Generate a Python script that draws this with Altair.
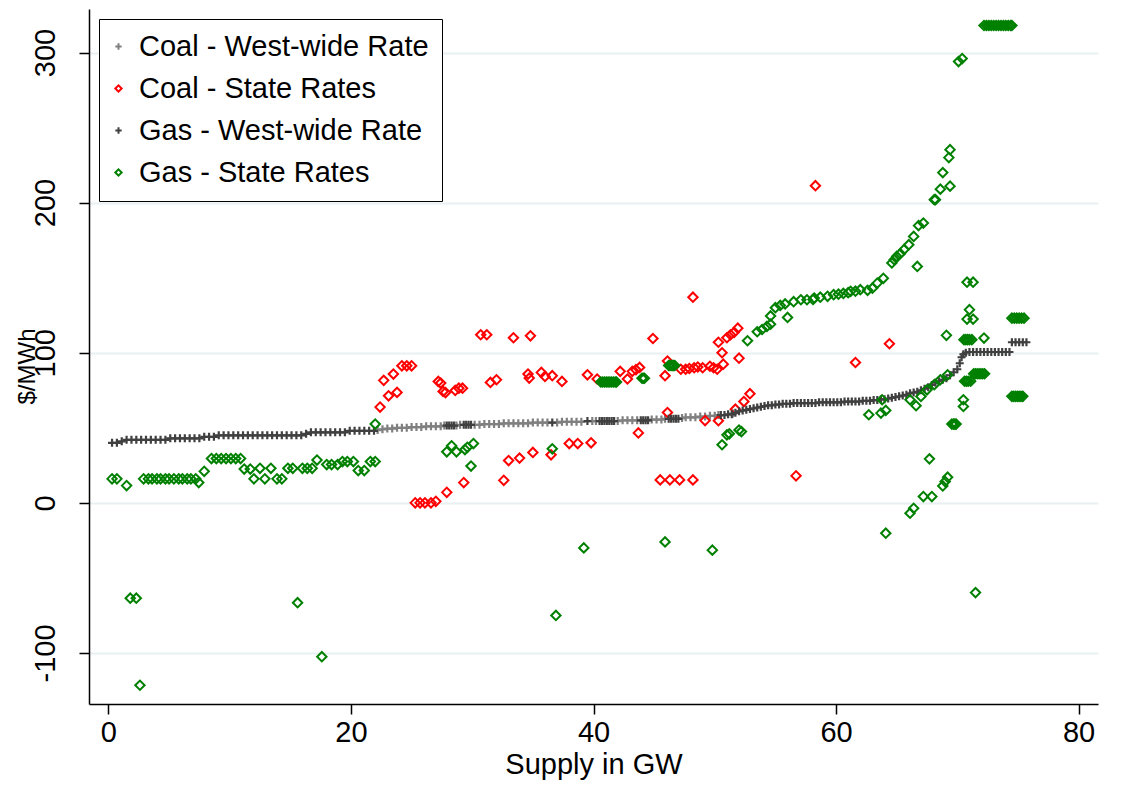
import altair as alt
import pandas as pd

# ---------------- data ----------------
series_names = ["Coal - West-wide Rate", "Coal - State Rates",
                "Gas - West-wide Rate", "Gas - State Rates"]

coal_ww_x = [22.2, 22.6, 23.0, 23.4, 23.8, 24.2, 24.6, 25.0, 25.4, 25.8, 26.2, 26.6, 27.0, 27.4, 27.7,
             28.7, 29.0, 30.2, 30.6, 31.0, 31.4, 31.8, 32.2, 32.6, 33.0, 33.4, 33.8, 34.2, 34.6, 35.0,
             35.4, 35.8, 36.2, 37.0, 37.4, 37.8, 38.2, 38.6, 39.0, 39.9, 40.2, 42.0, 42.4, 42.8, 43.2,
             43.6, 44.8, 45.2, 45.6, 45.9, 47.3, 47.6, 48.0, 48.4, 48.8, 49.2, 49.6, 50.0, 50.3, 51.5]
coal_ww_y = [48.5, 49, 49.5, 49.5, 50, 50, 50, 50.5, 50.5, 50.5, 51, 51, 51, 51, 51.5,
             51.5, 52, 52, 52, 52.5, 52.5, 52.5, 52.5, 53, 53, 53, 53, 53, 53, 53.5,
             53.5, 53.5, 53.5, 53.5, 54, 54, 54, 54, 54, 54.5, 54.5, 54.5, 55, 55, 55,
             55, 55.5, 55.5, 55.5, 56, 56.5, 57, 57, 57, 57.5, 57.5, 58, 58, 58.5, 59.5]

coal_st_x = [22.4, 23.1, 23.8, 22.7, 23.5, 24.2, 24.6, 25.0,
             27.2, 27.4, 27.6, 27.8, 28.6, 28.9, 29.2,
             30.7, 31.2, 33.4, 34.8,
             31.5, 32.0, 34.6, 34.7, 35.7, 36.0, 36.6, 37.4, 39.5, 40.3, 42.2, 42.8, 43.2, 43.5, 43.8,
             44.9, 46.1, 45.9, 48.2,
             47.2, 47.6, 47.9, 48.3, 48.6, 49.0, 49.6, 49.9, 50.2,
             50.3, 50.6, 50.7, 52.0, 51.0, 51.3, 51.6, 51.9,
             58.3, 64.4, 61.6,
             25.3, 25.7, 26.1, 26.6, 27.0, 27.9, 29.3, 32.6, 33.0, 33.9, 35.0, 36.5, 38.0, 38.7, 39.8,
             43.7, 46.1, 49.2, 50.3, 51.7, 52.4, 52.9, 45.5, 46.3, 47.1, 48.2, 56.7]
coal_st_y = [63.8, 71.3, 73.6, 81.6, 85.8, 91.3, 91.3, 91.3,
             80.9, 79.8, 74.2, 73.5, 74.9, 76.4, 76.4,
             112, 112, 110, 111.3,
             80.2, 82, 85.8, 83.1, 86.9, 84.2, 84.7, 80.9, 85.3, 82.5, 87.6, 82.5, 87.6, 88.7, 90.2,
             109.5, 94.5, 84.7, 137,
             89, 89, 89.5, 90, 90.5, 90, 91, 90, 89,
             107, 100, 92.4, 96.4, 110, 112, 113.6, 116.4,
             211.3, 106, 93.5,
             0, 0, 0, 0, 1, 7, 13.5, 15, 28.2, 29.8, 33.6, 32, 39.5, 39.5, 40,
             46.6, 60.2, 54.8, 54.7, 62.4, 67.5, 72.7, 15.3, 15.3, 15.3, 15.3, 18]

gas_ww_x = [0.3, 0.7, 1.1, 1.5, 1.9, 2.3, 2.7, 3.1, 3.5, 3.9, 4.3, 4.7, 5.1, 5.5, 5.9, 6.3, 6.7, 7.1,
            7.5, 7.9, 8.3, 8.7, 9.1, 9.5, 9.9, 10.3, 10.7, 11.1, 11.5, 11.9, 12.3, 12.7, 13.1, 13.5,
            13.9, 14.3, 14.7, 15.1, 15.5, 15.9, 16.3, 16.7, 17.1, 17.5, 17.9, 18.3, 18.7, 19.1, 19.5,
            19.9, 20.3, 20.7, 21.1, 21.5, 21.9,
            27.9, 28.1, 28.3, 28.5, 29.3, 29.5, 29.7, 29.9, 36.6, 39.5,
            40.5, 40.7, 40.9, 41.1, 41.3, 41.5, 41.7, 43.9, 44.1, 44.3, 44.5,
            46.2, 46.4, 46.6, 46.8, 47.0, 50.5, 50.8, 51.1, 51.4,
            51.7, 52.0, 52.3, 52.6, 52.9, 53.2, 53.5, 53.8, 54.1, 54.4, 54.7, 55.0, 55.3, 55.6, 55.9,
            56.2, 56.5, 56.8, 57.1, 57.4, 57.7, 58.0, 58.3, 58.6, 58.9, 59.2, 59.5, 59.8, 60.1, 60.4,
            60.7, 61.0, 61.3, 61.6, 61.9, 62.2, 62.5, 62.8, 63.1, 63.4, 63.7, 64.0, 64.3, 64.6, 64.9,
            65.2, 65.5, 65.8, 66.1, 66.4, 66.7, 67.0, 67.3, 67.6, 67.9, 68.2, 68.5, 68.8, 69.1, 69.4,
            69.7, 70.0, 70.2, 70.35, 70.5, 70.7, 71.0, 71.3, 71.6, 71.9, 72.2, 72.5, 72.8, 73.1, 73.4,
            73.7, 74.0, 74.3, 74.5, 74.8, 75.1, 75.4, 75.7]
gas_ww_y = [40, 40, 41, 42, 42, 42, 42, 42, 42, 42, 42, 42, 43, 43, 43, 43, 43, 43,
            43, 44, 44, 44, 45, 45, 45, 45, 45, 45, 45, 45, 45, 45, 45, 45,
            45, 45, 45, 45, 45, 45, 46, 47, 47, 47, 47, 47, 47, 47, 47,
            48, 48, 48, 48, 48, 48,
            51.5, 51.5, 51.5, 51.5, 52, 52, 52, 52, 53.5, 54.5,
            54.5, 54.5, 54.5, 54.5, 54.5, 54.5, 54.5, 55, 55, 55, 55,
            56, 56, 56, 56, 56, 58.5, 58.5, 59, 59,
            60, 61, 61.5, 62, 62.5, 63, 63.5, 64, 64.5, 65, 65, 65.5, 65.5, 66, 66,
            66, 66.5, 66.5, 66.5, 66.5, 66.5, 66.5, 66.5, 67, 67, 67, 67, 67, 67, 67,
            67.5, 67.5, 67.5, 67.5, 67.5, 68, 68, 68, 68.5, 68.5, 69, 69, 69.5, 70, 70.5,
            71, 71.5, 72, 73, 73.5, 74, 75, 76, 77, 78.5, 80, 81, 82, 83, 85,
            87, 89, 93, 97, 99, 100, 100.5, 100.5, 100.5, 100.5, 100.5, 100.5, 100.5, 100.5, 100.5,
            100.5, 100.5, 100.5, 107, 107, 107, 107, 107]

gas_st_x = [0.3, 0.7, 1.5, 2.9, 3.3, 3.6, 4.0, 4.3, 4.7, 5.0, 5.4, 5.8, 6.1, 6.5, 6.8, 7.2, 7.45, 7.9,
            8.5, 8.9, 9.3, 9.7, 10.1, 10.5, 10.9, 11.2, 11.7, 12.0, 12.5, 12.9, 13.4, 13.9, 14.3,
            14.8, 15.2, 16.0, 16.4, 16.8, 17.2, 18.0, 18.4, 18.9, 19.3, 19.7, 20.2, 20.6, 21.1,
            21.6, 22.0, 22.0,
            1.8, 2.3, 2.6, 15.6, 17.6,
            27.9, 28.3, 28.7, 29.4, 29.6, 30.1, 29.9, 36.6, 36.9, 39.2, 45.9, 49.8,
            40.6, 40.75, 40.9, 41.05, 41.2, 41.35, 41.5, 41.65, 41.8, 41.9,
            44.0, 44.1, 44.2,
            46.2, 46.3, 46.4, 46.5, 46.6, 46.7,
            50.6, 51.0, 51.2, 52.2, 52.0,
            52.7, 53.5, 53.9, 54.3, 54.6, 54.6, 55.0, 55.4, 55.8, 56.0, 56.5, 57.1, 57.6, 58.1, 58.2,
            58.7, 59.3, 59.8, 60.2, 60.6, 61.0, 61.2, 61.6, 62.0, 62.6, 63.0, 63.4, 63.9, 64.6, 64.8,
            65.0, 65.3, 65.6, 66.0, 66.4, 66.7, 66.8, 67.2, 68.1, 68.2, 68.6, 69.4, 68.8, 69.3, 69.4,
            70.1, 70.4,
            72.2, 72.4, 72.6, 72.8, 73.0, 73.2, 73.4, 73.6, 73.8, 74.0, 74.2, 74.4, 74.5,
            70.8, 71.3, 71.0, 70.8, 71.3, 69.1,
            70.55, 70.7, 70.85, 71.0, 71.2, 72.2,
            74.5, 74.7, 74.9, 75.1, 75.3, 75.5,
            71.35, 71.5, 71.65, 71.8, 71.95, 72.1, 72.25,
            70.6, 70.75, 70.9, 71.1,
            74.5, 74.65, 74.8, 74.95, 75.1, 75.25, 75.4,
            70.5, 70.5,
            63.8, 62.7, 63.7, 64.1, 66.1, 66.6, 67.0, 67.5, 68.1, 68.6, 69.2,
            69.55, 69.7, 69.8, 69.9,
            67.7, 68.8, 69.2, 69.0, 67.2, 67.9, 66.1, 66.4, 64.1, 71.5]
gas_st_y = [16, 16, 11.5, 16, 16, 16, 16, 16, 16, 16, 16, 16, 16, 16, 16, 16, 13.5, 21,
            29.5, 29.5, 29.5, 29.5, 29.5, 29.5, 29.5, 22.5, 22.5, 16, 23, 16, 23, 16, 16,
            23, 23, 23, 23, 23, 28.5, 25.5, 25.5, 25.5, 27.5, 27.5, 27.5, 21.5, 21.5,
            27.5, 27.5, 52.5,
            -63.5, -63.5, -121.5, -66.5, -102.5,
            34, 38, 34, 35.5, 37, 39.5, 24.5, 36, -75, -30, -26, -31.5,
            80.5, 80.5, 80.5, 80.5, 80.5, 80.5, 80.5, 80.5, 80.5, 80.5,
            83, 83, 83,
            91.5, 91.5, 91.5, 91.5, 91.5, 91.5,
            38.7, 45.3, 46, 47.5, 48.5,
            108, 114, 115.5, 117.5, 119, 124.5, 130, 131.5, 132.5, 123.5, 134, 135.3, 135.3, 135.5, 136.4,
            137, 137.6, 138.7, 139, 139.5, 140, 140.9, 141, 142, 141.6, 143, 146.4, 149.6, 159.8, 162,
            164.2, 166, 168.7, 172, 177.5, 157.5, 184.7, 186.4, 202, 202, 209, 211, 220, 230, 235.3,
            294, 296,
            318, 318, 318, 318, 318, 318, 318, 318, 318, 318, 318, 318, 318,
            147, 147, 128.7, 122.4, 122.4, 111.6,
            108.7, 108.7, 108.7, 108.7, 108.7, 109.8,
            123, 123, 123, 123, 123, 123,
            86, 86, 86, 86, 86, 86, 86,
            81, 81, 81, 81,
            71, 71, 71, 71, 71, 71, 71,
            68.7, 64.2,
            68.7, 58.7, 59.8, 61.6, 68.7, 64.7, 70.9, 75.3, 78.7, 82, 85.3,
            52.5, 52.5, 52.5, 52.5,
            29.3, 11.3, 17.1, 14.2, 4.2, 4.2, -6.9, -3.6, -20.2, -59.8]

x_ticks = [0, 20, 40, 60, 80]
y_ticks = [-100, 0, 100, 200, 300]

# ---------------- build table ----------------
frames = []
for name, xs, ys in [(series_names[0], coal_ww_x, coal_ww_y),
                     (series_names[1], coal_st_x, coal_st_y),
                     (series_names[2], gas_ww_x, gas_ww_y),
                     (series_names[3], gas_st_x, gas_st_y)]:
    frames.append(pd.DataFrame({"x": xs, "y": ys, "series": name}))
df = pd.concat(frames, ignore_index=True)
df["sw"] = df["series"].map(lambda s: 2.2 if "West" in s else 2.0)
df["sz"] = df["series"].map(lambda s: 64 if "West" in s else 88)

PLUS = "M-1,0H1M0,-1V1"
colors = ["#808080", "#ff0000", "#404040", "#008000"]
shapes = [PLUS, "diamond", PLUS, "diamond"]
FONT = "Liberation Sans"
FS = 29

legend_kw = dict(title=None, orient="top-left", offset=10, padding=13, rowPadding=12,
                 labelFontSize=FS, labelFont=FONT, labelColor="black",
                 symbolSize=40, symbolStrokeWidth=2, symbolOffset=-8, labelOffset=6,
                 strokeColor="black", fillColor="white", labelLimit=600)

chart = alt.Chart(df).mark_point(filled=False, opacity=1).encode(
    x=alt.X("x:Q", title="Supply in GW",
            scale=alt.Scale(domain=[-1.6, 81.6], nice=False, zero=False),
            axis=alt.Axis(values=x_ticks, grid=False, tickSize=10, labelPadding=4,
                          titlePadding=3, labelFontSize=FS, titleFontSize=FS,
                          labelFont=FONT, titleFont=FONT, labelColor="black",
                          titleColor="black", titleFontWeight="normal",
                          domainColor="black", tickColor="black", domainWidth=1.5,
                          tickWidth=1.5, labelFlush=False)),
    y=alt.Y("y:Q", title="$/MWh",
            scale=alt.Scale(domain=[-134, 329], nice=False, zero=False),
            axis=alt.Axis(values=y_ticks, grid=True, gridColor="#e8f0f2", gridWidth=2,
                          tickSize=10, labelAngle=-90, labelAlign="center",
                          labelBaseline="bottom", labelPadding=19,
                          labelExpr="'' + datum.value",
                          titleX=-62, titleY=357, titleAngle=-90, titleAlign="center",
                          titleBaseline="middle",
                          labelFontSize=FS, titleFontSize=24, labelFont=FONT,
                          titleFont=FONT, labelColor="black", titleColor="black",
                          titleFontWeight="normal", domainColor="black",
                          tickColor="black", domainWidth=1.5, tickWidth=1.5,
                          labelFlush=False)),
    color=alt.Color("series:N", scale=alt.Scale(domain=series_names, range=colors),
                    legend=alt.Legend(**legend_kw)),
    shape=alt.Shape("series:N", scale=alt.Scale(domain=series_names, range=shapes),
                    legend=alt.Legend(**legend_kw)),
    strokeWidth=alt.StrokeWidth("sw:Q", scale=None, legend=None),
    size=alt.Size("sz:Q", scale=None, legend=None),
).properties(
    width=1009, height=695,
    autosize=alt.AutoSizeParams(type="none"),
    padding={"left": 81, "top": 1, "right": 20, "bottom": 95},
    background="white",
).configure_view(stroke=None)

chart.save("out.html", embed_options={"renderer": "svg", "actions": False})
